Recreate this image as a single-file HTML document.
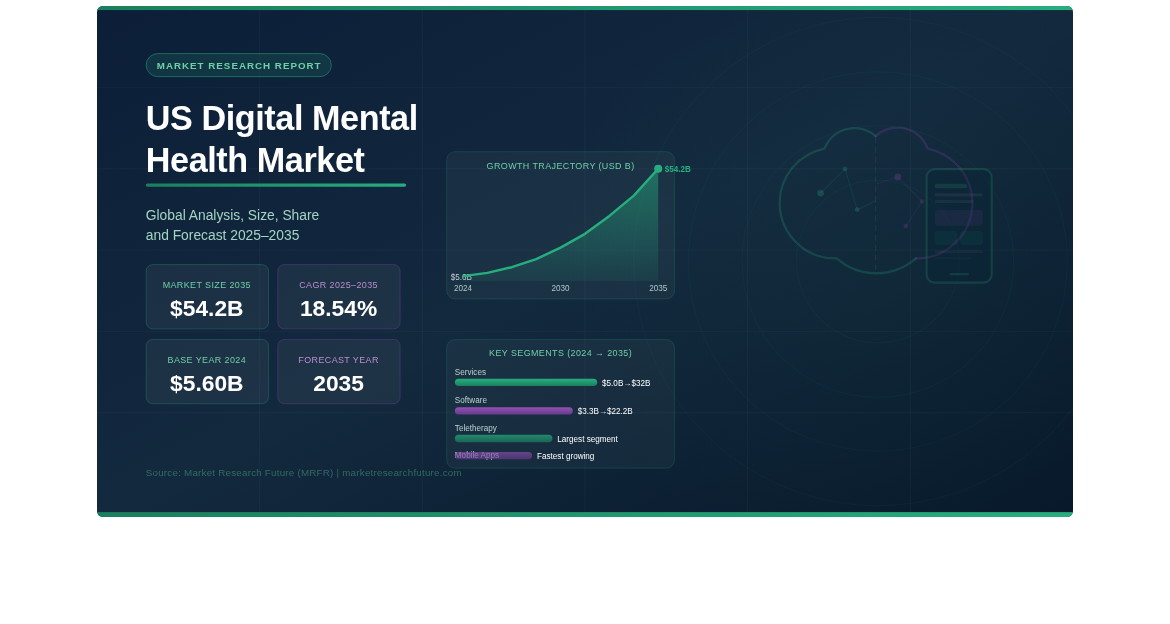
<!DOCTYPE html>
<html lang="en">
<head>
<meta charset="utf-8">
<title>US Digital Mental Health Market</title>
<style>
html,body{margin:0;padding:0;background:#fff;}
body{width:1170px;height:624px;overflow:hidden;position:relative;font-family:"Liberation Sans",sans-serif;}
#card{position:absolute;left:97px;top:6px;width:976px;height:511px;border-radius:6px;overflow:hidden;}
#card svg{display:block;width:976px;height:511px;}
svg text{font-family:"Liberation Sans",sans-serif;}
</style>
</head>
<body>
<div id="card">
<svg viewBox="0 0 1200 628" preserveAspectRatio="none">
<defs>
<linearGradient id="bg" x1="0" y1="0" x2="1" y2="1">
<stop offset="0" stop-color="#0c1e38"/>
<stop offset="0.5" stop-color="#13293e"/>
<stop offset="1" stop-color="#07182a"/>
</linearGradient>
<linearGradient id="gbar" x1="0" y1="0" x2="1" y2="0">
<stop offset="0" stop-color="#1a7f5e"/>
<stop offset="1" stop-color="#27ae7f"/>
</linearGradient>
<linearGradient id="pbar" x1="0" y1="0" x2="0" y2="1">
<stop offset="0" stop-color="#9152b3"/>
<stop offset="1" stop-color="#693a8f"/>
</linearGradient>
<linearGradient id="gbarv" x1="0" y1="0" x2="0" y2="1">
<stop offset="0" stop-color="#28b081"/>
<stop offset="1" stop-color="#1a7f5e"/>
</linearGradient>
<linearGradient id="area" x1="0" y1="0" x2="0" y2="1">
<stop offset="0" stop-color="#27ae7f" stop-opacity="0.5"/>
<stop offset="1" stop-color="#27ae7f" stop-opacity="0.09"/>
</linearGradient>
<radialGradient id="glow" gradientUnits="userSpaceOnUse" cx="960" cy="314" r="400">
<stop offset="0" stop-color="#2f9a62" stop-opacity="0.05"/>
<stop offset="1" stop-color="#2f9a62" stop-opacity="0"/>
</radialGradient>
<filter id="soft" x="-5%" y="-5%" width="110%" height="110%"><feGaussianBlur stdDeviation="0.85"/></filter>
</defs>
<rect width="1200" height="628" fill="url(#bg)"/>
<rect width="1200" height="628" fill="url(#glow)"/>
<!-- grid -->
<g stroke="#9fc8d0" stroke-opacity="0.035" stroke-width="1.8" fill="none">
<path d="M0 100H1200M0 200H1200M0 300H1200M0 400H1200M0 500H1200"/>
<path d="M200 0V628M400 0V628M600 0V628M800 0V628M1000 0V628"/>
</g>
<!-- rings -->
<g stroke="#2a9d8f" stroke-opacity="0.055" stroke-width="1.5" fill="none">
<circle cx="960" cy="314" r="100"/>
<circle cx="960" cy="314" r="167"/>
<circle cx="960" cy="314" r="233"/>
<circle cx="960" cy="314" r="300"/>
</g>
<rect x="0" y="0" width="1200" height="5" fill="url(#gbar)"/>
<rect x="0" y="622" width="1200" height="6" fill="url(#gbar)"/>

<!-- pill -->
<rect x="60.5" y="58.5" width="227.6" height="28.3" rx="14.15" fill="#27ae7f" fill-opacity="0.15" stroke="#27ae7f" stroke-opacity="0.6" stroke-width="1"/>
<text x="73.5" y="78" font-size="12" font-weight="700" fill="#6fcfa8" letter-spacing="1.25">MARKET RESEARCH REPORT</text>

<!-- title -->
<text x="60" y="152" font-size="42" font-weight="700" fill="#ffffff" letter-spacing="-0.5">US Digital Mental</text>
<text x="60" y="204" font-size="42" font-weight="700" fill="#ffffff" letter-spacing="-0.5">Health Market</text>
<rect x="60" y="218" width="320" height="4" rx="2" fill="url(#gbar)"/>
<text x="60" y="263" font-size="17" fill="#a3d5c3">Global Analysis, Size, Share</text>
<text x="60" y="288" font-size="17" fill="#a3d5c3">and Forecast 2025–2035</text>

<!-- stat cards -->
<g>
<rect x="60.5" y="317.8" width="150.4" height="79" rx="8" fill="#ffffff" fill-opacity="0.052" stroke="#27ae7f" stroke-opacity="0.35"/>
<text x="135" y="347" font-size="11" text-anchor="middle" fill="#6fcfa8" letter-spacing="0.5">MARKET SIZE 2035</text>
<text x="135" y="381" font-size="28" font-weight="700" text-anchor="middle" fill="#ffffff">$54.2B</text>

<rect x="222.3" y="317.8" width="150.4" height="79" rx="8" fill="#ffffff" fill-opacity="0.052" stroke="#8e44ad" stroke-opacity="0.4"/>
<text x="297" y="347" font-size="11" text-anchor="middle" fill="#bb8fce" letter-spacing="0.5">CAGR 2025–2035</text>
<text x="297" y="381" font-size="28" font-weight="700" text-anchor="middle" fill="#ffffff">18.54%</text>

<rect x="60.5" y="409.8" width="150.4" height="79" rx="8" fill="#ffffff" fill-opacity="0.052" stroke="#27ae7f" stroke-opacity="0.35"/>
<text x="135" y="439" font-size="11" text-anchor="middle" fill="#6fcfa8" letter-spacing="0.5">BASE YEAR 2024</text>
<text x="135" y="473" font-size="28" font-weight="700" text-anchor="middle" fill="#ffffff">$5.60B</text>

<rect x="222.3" y="409.8" width="150.4" height="79" rx="8" fill="#ffffff" fill-opacity="0.052" stroke="#8e44ad" stroke-opacity="0.4"/>
<text x="297" y="439" font-size="11" text-anchor="middle" fill="#bb8fce" letter-spacing="0.5">FORECAST YEAR</text>
<text x="297" y="473" font-size="28" font-weight="700" text-anchor="middle" fill="#ffffff">2035</text>
</g>

<!-- chart card -->
<rect x="430" y="179" width="280" height="181" rx="10" fill="#d0f5e6" fill-opacity="0.042" stroke="#27ae7f" stroke-opacity="0.25"/>
<text x="570" y="200.4" font-size="11" text-anchor="middle" fill="#6fcfa8" letter-spacing="0.5">GROWTH TRAJECTORY (USD B)</text>
<text x="448" y="337.2" font-size="10" text-anchor="middle" fill="#c5d0d8">$5.6B</text>
<path d="M450 332L480 328L510 321L540 311L570 297L600 280L630 258L660 233L690 200V338H450Z" fill="url(#area)"/>
<path d="M450 332L480 328L510 321L540 311L570 297L600 280L630 258L660 233L690 200" fill="none" stroke="#27ae7f" stroke-width="3" stroke-linecap="round" stroke-linejoin="round"/>
<circle cx="690" cy="200" r="5" fill="#27ae7f"/>
<text x="698" y="204" font-size="10" font-weight="700" fill="#27ae7f">$54.2B</text>
<text x="450" y="350" font-size="10" text-anchor="middle" fill="#a9c9c2">2024</text>
<text x="570" y="350" font-size="10" text-anchor="middle" fill="#a9c9c2">2030</text>
<text x="690" y="350" font-size="10" text-anchor="middle" fill="#a9c9c2">2035</text>

<!-- segments card -->
<rect x="430" y="410" width="280" height="158" rx="10" fill="#d0f5e6" fill-opacity="0.042" stroke="#27ae7f" stroke-opacity="0.25"/>
<text x="570" y="430" font-size="11" text-anchor="middle" fill="#6fcfa8" letter-spacing="0.5">KEY SEGMENTS (2024 → 2035)</text>
<text x="440" y="454" font-size="10" fill="#bcd2ce">Services</text>
<rect x="440" y="458" width="175" height="9" rx="4.5" fill="url(#gbarv)"/>
<text x="621" y="467" font-size="10" fill="#ffffff">$5.0B→$32B</text>
<text x="440" y="488" font-size="10" fill="#bcd2ce">Software</text>
<rect x="440" y="493" width="145" height="9" rx="4.5" fill="url(#pbar)"/>
<text x="591" y="502" font-size="10" fill="#ffffff">$3.3B→$22.2B</text>
<text x="440" y="522" font-size="10" fill="#bcd2ce">Teletherapy</text>
<rect x="440" y="527" width="120" height="9" rx="4.5" fill="url(#gbarv)" fill-opacity="0.7"/>
<text x="566" y="536" font-size="10" fill="#ffffff">Largest segment</text>
<text x="440" y="556" font-size="10" fill="#bcd2ce">Mobile Apps</text>
<rect x="440" y="548" width="95" height="9" rx="4.5" fill="url(#pbar)" fill-opacity="0.64"/>
<text x="541" y="557" font-size="10" fill="#ffffff">Fastest growing</text>

<!-- source -->
<text x="60" y="578" font-size="12" fill="#5fcfa0" fill-opacity="0.4" letter-spacing="0.3">Source: Market Research Future (MRFR) | marketresearchfuture.com</text>

<!-- brain illustration -->
<g filter="url(#soft)">
<g fill="none" stroke-width="2" stroke-linecap="round" stroke-linejoin="round">
<path d="M957.4 160A39.5 39.5 0 0 0 894.5 175.2A68.4 68.4 0 0 0 839.3 242.5A68.4 68.4 0 0 0 909.5 310.2A74 74 0 0 0 1006.8 310.2" stroke="#27ae7f" stroke-opacity="0.225" stroke-width="2.8"/>
<path d="M957.4 160A39.5 39.5 0 0 1 1021.3 175.2A68.4 68.4 0 0 1 1076.3 243A68.4 68.4 0 0 1 1006.8 310.2" stroke="#8e44ad" stroke-opacity="0.225" stroke-width="2.8"/>
<path d="M957.4 162V326" stroke="#8fb5b0" stroke-opacity="0.1" stroke-width="1.3" stroke-dasharray="6 6"/>
<path d="M889.6 230L919.7 200.2L934.7 250.3L957.4 239.5" stroke="#27ae7f" stroke-opacity="0.12" stroke-width="1.4"/>
<path d="M957.4 219L984.5 210.2L1014.3 240.2L994.5 270.5" stroke="#8e44ad" stroke-opacity="0.13" stroke-width="1.4"/>
</g>
<circle cx="889.6" cy="230" r="4" fill="#27ae7f" fill-opacity="0.25"/>
<circle cx="919.7" cy="200.2" r="3" fill="#27ae7f" fill-opacity="0.22"/>
<circle cx="934.7" cy="250.3" r="3" fill="#27ae7f" fill-opacity="0.22"/>
<circle cx="984.5" cy="210.2" r="4.2" fill="#8e44ad" fill-opacity="0.26"/>
<circle cx="1014.3" cy="240.2" r="2.8" fill="#8e44ad" fill-opacity="0.22"/>
<circle cx="994.5" cy="270.5" r="2.8" fill="#8e44ad" fill-opacity="0.22"/>

<!-- phone -->
<rect x="1020" y="200.5" width="80" height="139.5" rx="10" fill="#0a2230" fill-opacity="0.25" stroke="#27ae7f" stroke-opacity="0.2" stroke-width="2.6"/>
<rect x="1030" y="218.5" width="40" height="5.5" rx="2.75" fill="#27ae7f" fill-opacity="0.15"/>
<rect x="1030" y="230" width="59" height="4" rx="2" fill="#ffffff" fill-opacity="0.05"/>
<rect x="1030" y="238.5" width="48" height="3.5" rx="1.75" fill="#ffffff" fill-opacity="0.04"/>
<rect x="1030" y="250.5" width="59" height="19.7" rx="4" fill="#8e6ad0" fill-opacity="0.07"/>
<rect x="1030" y="276.6" width="28" height="17" rx="4" fill="#27ae7f" fill-opacity="0.07"/>
<rect x="1061.2" y="276.6" width="28" height="17" rx="4" fill="#27ae7f" fill-opacity="0.07"/>
<rect x="1030" y="300.5" width="59" height="3.3" rx="1.6" fill="#ffffff" fill-opacity="0.035"/>
<rect x="1030" y="308.8" width="45" height="2.8" rx="1.4" fill="#ffffff" fill-opacity="0.02"/>
<rect x="1048" y="328.2" width="24" height="2.8" rx="1.4" fill="#27ae7f" fill-opacity="0.17"/>
</g>
</svg>
</div>
</body>
</html>
